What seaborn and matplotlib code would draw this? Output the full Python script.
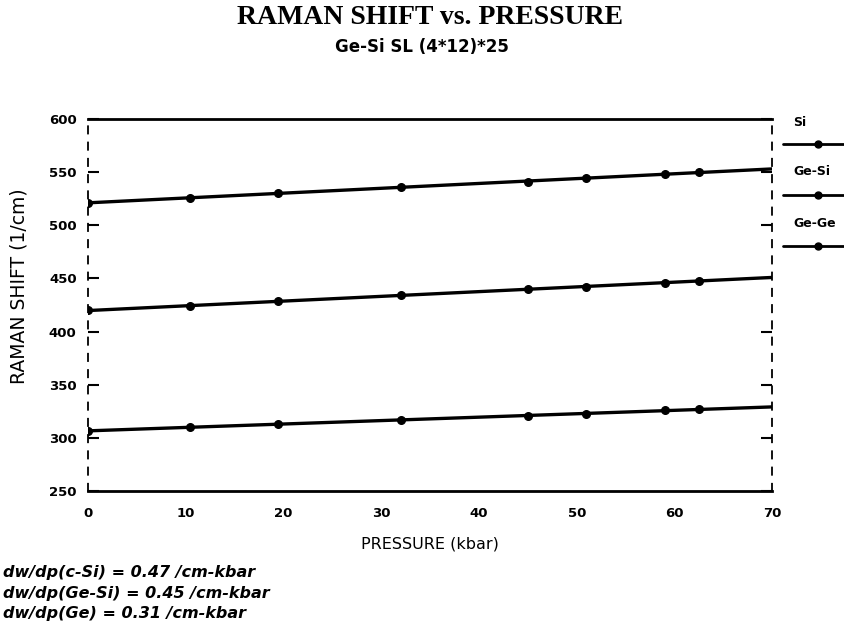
import numpy as np
import pandas as pd
import matplotlib.pyplot as plt
import seaborn as sns
from matplotlib.lines import Line2D

# values
pressure = [0, 10.5, 19.5, 32, 45, 51, 59, 62.5]
si_shift = [521, 526, 530, 536, 541, 544, 548, 550]
gesi_shift = [420, 424, 429, 434, 440, 442, 446, 448]
gege_shift = [307, 310, 313, 317, 321, 323, 326, 327]
mode_names = ["Si", "Ge-Si", "Ge-Ge"]
x_ticks = [0, 10, 20, 30, 40, 50, 60, 70]
y_ticks = [250, 300, 350, 400, 450, 500, 550, 600]
slope_notes = ["dw/dp(c-Si) = 0.47 /cm-kbar",
               "dw/dp(Ge-Si) = 0.45 /cm-kbar",
               "dw/dp(Ge) = 0.31 /cm-kbar"]

df = pd.DataFrame({
    "pressure": pressure * 3,
    "shift": si_shift + gesi_shift + gege_shift,
    "mode": [m for m in mode_names for _ in pressure],
})

sns.set_style("white")
plt.rcParams["font.family"] = ["DejaVu Sans"]
plt.rcParams["text.color"] = "black"
plt.rcParams["axes.labelcolor"] = "black"
plt.rcParams["xtick.color"] = "black"
plt.rcParams["ytick.color"] = "black"

fig = plt.figure(figsize=(8.44, 6.29), dpi=100)
ax = fig.add_axes([0.104, 0.219, 0.811, 0.592])
ax.set_xlim(0, 70)
ax.set_ylim(250, 600)

# points plus fitted line, line runs over the whole pressure range
for name in mode_names:
    sub = df[df["mode"] == name]
    sns.regplot(data=sub, x="pressure", y="shift", ax=ax, ci=None,
                truncate=False, color="black",
                scatter_kws={"s": 30, "alpha": 1, "zorder": 3},
                line_kws={"lw": 2.4})

ax.set_xlim(0, 70)
ax.set_ylim(250, 600)
ax.set_xticks(x_ticks)
ax.set_yticks(y_ticks)
ax.tick_params(axis="y", direction="in", length=8, width=1.5,
               left=True, right=True, labelsize=9.5, pad=8)
ax.tick_params(axis="x", length=0, labelsize=9.5, pad=11)
for lbl in ax.get_xticklabels() + ax.get_yticklabels():
    lbl.set_fontweight("bold")

for side in ["top", "bottom"]:
    ax.spines[side].set_linewidth(2)
    ax.spines[side].set_color("black")
for side in ["left", "right"]:
    ax.spines[side].set_linewidth(1.3)
    ax.spines[side].set_color("black")
    ax.spines[side].set_linestyle((0, (4, 5)))

ax.set_xlabel("PRESSURE (kbar)", fontsize=11.5, labelpad=12)
ax.set_ylabel("RAMAN SHIFT (1/cm)", fontsize=13.5)
ax.yaxis.set_label_coords(-0.086, 0.55)

fig.text(0.51, 0.972, "RAMAN SHIFT vs. PRESSURE", ha="center", va="center",
         family="Liberation Serif", fontweight="bold", fontsize=20)
fig.text(0.5, 0.925, "Ge-Si SL (4*12)*25", ha="center", va="center",
         fontweight="bold", fontsize=12)

# legend: name above a short line sample, outside the right edge
leg_text_y = [0.806, 0.727, 0.645]
leg_line_y = [0.771, 0.690, 0.609]
for name, ty, ly in zip(mode_names, leg_text_y, leg_line_y):
    fig.text(0.94, ty, name, ha="left", va="center", fontweight="bold", fontsize=9)
    fig.add_artist(Line2D([0.928, 1.0], [ly, ly], color="black", lw=2,
                          transform=fig.transFigure))
    fig.add_artist(Line2D([0.969], [ly], color="black", marker="o", ms=5,
                          transform=fig.transFigure))

for i, note in enumerate(slope_notes):
    fig.text(0.003, 0.09 - i * 0.033, note, ha="left", va="center",
             fontweight="bold", style="italic", fontsize=11.5)

fig.savefig("out.png", dpi=100)
